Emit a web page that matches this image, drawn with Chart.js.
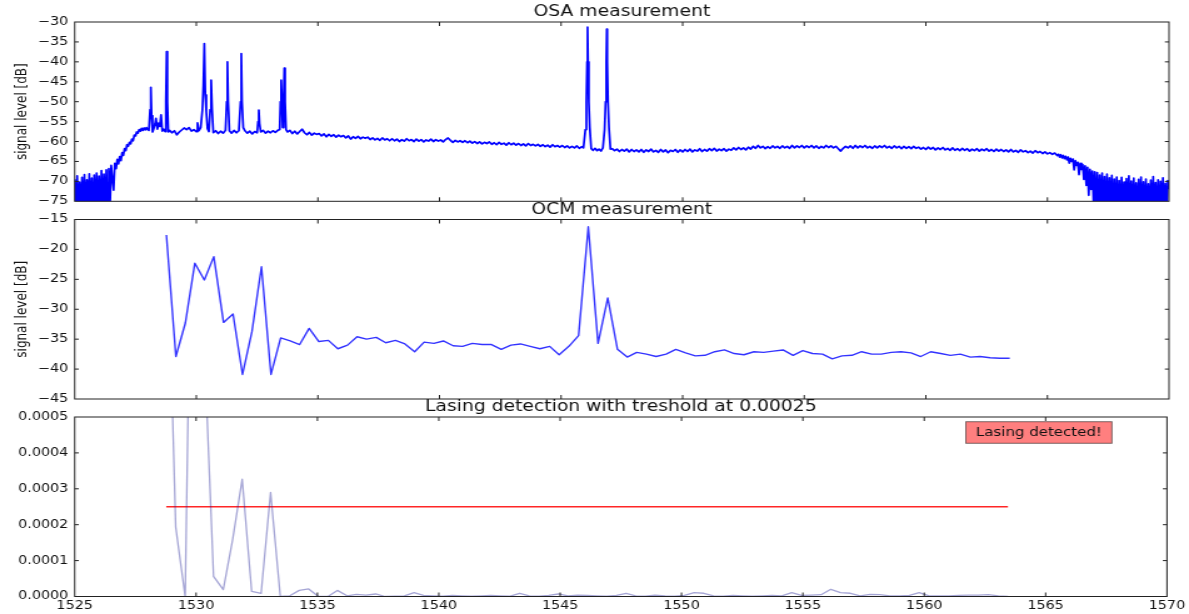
<!DOCTYPE html>
<html><head><meta charset="utf-8">
<script src="https://cdn.jsdelivr.net/npm/chart.js@4.4.1/dist/chart.umd.min.js"></script>
<style>
html,body{margin:0;padding:0;background:#fff;}
#wrap{position:relative;width:1189px;height:614px;overflow:hidden;background:#fff;}
canvas{position:absolute;left:0;top:0;width:1189px !important;height:614px !important;}
</style></head><body><div id="wrap">
<canvas id="c1" width="951" height="614"></canvas>
<canvas id="c2" width="951" height="614"></canvas>
<canvas id="c3" width="951" height="614"></canvas>
</div>
<script>
// ---------------- DATA ----------------
const titles = ['OSA measurement', 'OCM measurement', 'Lasing detection with treshold at 0.00025'];
const yAxisLabel = 'signal level [dB]';
const lasingLabel = 'Lasing detected!';
const xTickValues = [1525, 1530, 1535, 1540, 1545, 1550, 1555, 1560, 1565, 1570];
const threshold = 0.00025;

// OSA trace: wavelength [nm] and level [dB]
const osaNm = [
1525.00,1525.05,1525.10,1525.15,1525.20,1525.25,1525.30,1525.35,1525.40,1525.45,
1525.50,1525.55,1525.60,1525.65,1525.70,1525.75,1525.80,1525.85,1525.90,1525.95,
1526.00,1526.05,1526.10,1526.15,1526.20,1526.25,1526.30,1526.35,1526.40,1526.45,
1526.50,1526.55,1526.60,1526.65,1526.70,1526.75,1526.80,1526.85,1526.90,1526.95,
1527.00,1527.05,1527.10,1527.15,1527.20,1527.25,1527.30,1527.35,1527.40,1527.45,
1527.50,1527.55,1527.60,1527.65,1527.70,1527.75,1527.80,1527.85,1527.90,1527.95,
1528.00,
1528.05,1528.10,1528.13,1528.16,1528.20,1528.25,1528.30,1528.34,1528.40,1528.45,
1528.50,1528.55,1528.60,1528.66,1528.72,1528.75,1528.78,1528.81,1528.85,1528.90,
1529.00,1529.10,1529.20,1529.30,1529.40,1529.50,1529.60,1529.70,1529.80,1529.90,
1530.00,1530.05,1530.10,1530.18,1530.25,1530.29,1530.33,1530.37,1530.41,1530.46,
1530.52,1530.57,1530.61,1530.65,1530.70,1530.80,1530.90,1531.00,1531.10,1531.20,
1531.25,1531.28,1531.31,1531.36,1531.45,1531.55,1531.65,1531.75,1531.82,1531.85,
1531.88,1531.93,1532.00,1532.10,1532.20,1532.30,1532.40,1532.50,1532.54,1532.57,
1532.60,1532.65,1532.75,1532.85,1532.95,1533.05,1533.15,1533.25,1533.35,1533.43,
1533.46,1533.49,1533.52,1533.55,1533.59,1533.62,1533.65,1533.69,1533.75,1533.85,
1533.95,
1534.05,1534.15,1534.25,1534.35,1534.45,1534.55,1534.65,1534.75,1534.85,1534.95,
1535.05,1535.15,1535.25,1535.35,1535.45,1535.55,1535.65,1535.75,1535.85,1535.95,
1536.05,1536.15,1536.25,1536.35,1536.45,1536.55,1536.65,1536.75,1536.85,1536.95,
1537.05,1537.15,1537.25,1537.35,1537.45,1537.55,1537.65,1537.75,1537.85,1537.95,
1538.05,1538.15,1538.25,1538.35,1538.45,1538.55,1538.65,1538.75,1538.85,1538.95,
1539.05,1539.15,1539.25,1539.35,1539.45,1539.55,1539.65,1539.75,1539.85,1539.95,
1540.05,1540.15,1540.25,1540.35,1540.45,1540.55,1540.65,1540.75,1540.85,1540.95,
1541.05,1541.15,1541.25,1541.35,1541.45,1541.55,1541.65,1541.75,1541.85,1541.95,
1542.05,1542.15,1542.25,1542.35,1542.45,1542.55,1542.65,1542.75,1542.85,1542.95,
1543.05,1543.15,1543.25,1543.35,1543.45,1543.55,1543.65,1543.75,1543.85,1543.95,
1544.05,1544.15,1544.25,1544.35,1544.45,1544.55,1544.65,1544.75,1544.85,1544.95,
1545.05,1545.15,1545.25,1545.35,1545.45,1545.55,1545.65,1545.75,1545.85,
1545.92,1546.00,1546.04,1546.07,1546.09,1546.11,1546.14,1546.18,1546.24,1546.32,
1546.40,1546.48,1546.56,1546.64,1546.72,1546.79,1546.83,1546.86,1546.88,1546.90,
1546.93,1546.97,1547.03,
1547.10,1547.20,1547.30,1547.40,1547.50,1547.60,1547.70,1547.80,1547.90,1548.00,
1548.10,1548.20,1548.30,1548.40,1548.50,1548.60,1548.70,1548.80,1548.90,1549.00,
1549.10,1549.20,1549.30,1549.40,1549.50,1549.60,1549.70,1549.80,1549.90,1550.00,
1550.10,1550.20,1550.30,1550.40,1550.50,1550.60,1550.70,1550.80,1550.90,1551.00,
1551.10,1551.20,1551.30,1551.40,1551.50,1551.60,1551.70,1551.80,1551.90,1552.00,
1552.10,1552.20,1552.30,1552.40,1552.50,1552.60,1552.70,1552.80,1552.90,1553.00,
1553.10,1553.20,1553.30,1553.40,1553.50,1553.60,1553.70,1553.80,1553.90,1554.00,
1554.10,1554.20,1554.30,1554.40,1554.50,1554.60,1554.70,1554.80,1554.90,1555.00,
1555.10,1555.20,1555.30,1555.40,1555.50,1555.60,1555.70,1555.80,1555.90,1556.00,
1556.10,1556.20,1556.30,1556.40,1556.50,1556.60,1556.70,1556.80,1556.90,1557.00,
1557.10,1557.20,1557.30,1557.40,1557.50,1557.60,1557.70,1557.80,1557.90,1558.00,
1558.10,1558.20,1558.30,1558.40,1558.50,1558.60,1558.70,1558.80,1558.90,1559.00,
1559.10,1559.20,1559.30,1559.40,1559.50,1559.60,1559.70,1559.80,1559.90,1560.00,
1560.10,1560.20,1560.30,1560.40,1560.50,1560.60,1560.70,1560.80,1560.90,1561.00,
1561.10,1561.20,1561.30,1561.40,1561.50,1561.60,1561.70,1561.80,1561.90,1562.00,
1562.10,1562.20,1562.30,1562.40,1562.50,1562.60,1562.70,1562.80,1562.90,1563.00,
1563.10,1563.20,1563.30,1563.40,1563.50,1563.60,1563.70,1563.80,1563.90,1564.00,
1564.10,1564.20,1564.30,1564.40,1564.50,1564.60,1564.70,1564.80,1564.90,1565.00,
1565.10,1565.20,1565.30,1565.40,
1565.45,1565.50,1565.55,1565.60,1565.65,1565.70,1565.75,1565.80,1565.85,1565.90,
1565.95,1566.00,1566.05,1566.10,1566.15,1566.20,1566.25,1566.30,1566.35,1566.40,
1566.45,1566.50,1566.55,1566.60,1566.65,1566.70,1566.75,1566.80,1566.85,1566.90,
1566.95,
1567.00,1567.05,1567.10,1567.15,1567.20,1567.25,1567.30,1567.35,1567.40,1567.45,
1567.50,1567.55,1567.60,1567.65,1567.70,1567.75,1567.80,1567.85,1567.90,1567.95,
1568.00,1568.05,1568.10,1568.15,1568.20,1568.25,1568.30,1568.35,1568.40,1568.45,
1568.50,1568.55,1568.60,1568.65,1568.70,1568.75,1568.80,1568.85,1568.90,1568.95,
1569.00,1569.05,1569.10,1569.15,1569.20,1569.25,1569.30,1569.35,1569.40,1569.45,
1569.50,1569.55,1569.60,1569.65,1569.70,1569.75,1569.80,1569.85,1569.90,1569.95,
1570.00
];
const osaDb = [
-69.5,-80,-68.6,-80,-70.2,-78,-69.0,-80,-68.3,-80,
-69.6,-77,-68.1,-80,-69.2,-80,-68.4,-79,-67.9,-80,
-68.7,-80,-67.3,-80,-68.2,-79,-67.1,-80,-66.8,-76,
-66.0,-69.5,-72.2,-65.5,-66.8,-64.5,-65.6,-63.8,-64.8,-62.8,
-63.5,-61.8,-62.3,-60.8,-61.2,-60.2,-60.6,-59.4,-59.8,-58.4,
-58.6,-57.6,-57.9,-57.0,-57.4,-56.7,-57.2,-56.6,-57.1,-56.5,
-57.0,
-57.2,-52.0,-46.4,-53.5,-57.6,-56.8,-55.6,-54.2,-56.9,-55.4,
-56.2,-53.3,-57.4,-56.9,-57.5,-50.0,-37.4,-50.0,-57.6,-57.2,
-57.8,-57.3,-58.3,-57.6,-57.1,-56.6,-57.0,-56.5,-57.4,-57.0,
-57.5,-55.3,-57.3,-56.5,-52.1,-46.0,-35.4,-48.3,-52.5,-56.8,
-57.5,-52.0,-44.6,-52.0,-57.8,-57.3,-58.0,-57.4,-57.9,-57.2,
-50.0,-40.0,-50.0,-57.3,-57.9,-57.2,-57.8,-57.3,-50.0,-37.9,
-50.0,-56.5,-57.3,-57.9,-57.4,-58.1,-57.5,-57.8,-55.0,-52.1,
-55.5,-57.6,-57.2,-57.9,-57.4,-57.8,-57.3,-57.7,-57.2,-57.0,
-50.0,-44.6,-50.0,-56.5,-50.0,-41.6,-50.0,-57.0,-57.6,-57.2,
-58.0,
-57.4,-58.1,-57.5,-56.9,-57.8,-58.3,-57.7,-58.4,-57.9,-58.2,
-58.0,-58.6,-58.1,-58.8,-58.2,-58.7,-58.3,-58.9,-58.4,-58.8,
-58.5,-59.1,-58.6,-59.4,-58.8,-59.2,-58.7,-59.3,-58.9,-59.2,
-58.9,-59.5,-59.1,-59.6,-59.2,-59.7,-59.1,-59.6,-59.3,-59.8,
-59.3,-59.8,-59.4,-60.0,-59.5,-59.9,-59.3,-59.8,-59.5,-60.0,
-59.4,-59.9,-59.5,-60.1,-59.6,-59.9,-59.4,-60.0,-59.5,-59.9,
-59.6,-60.1,-59.5,-59.1,-59.7,-60.2,-59.7,-60.1,-59.8,-60.2,
-59.8,-60.3,-59.9,-60.4,-60.0,-60.5,-60.1,-60.6,-60.2,-60.5,
-60.1,-60.7,-60.3,-60.8,-60.2,-60.7,-60.4,-60.9,-60.3,-60.8,
-60.4,-60.9,-60.5,-61.0,-60.6,-61.1,-60.5,-61.0,-60.7,-61.1,
-60.7,-61.2,-60.8,-61.3,-60.9,-61.4,-60.8,-61.3,-61.0,-61.4,
-61.0,-61.5,-61.1,-61.6,-61.2,-61.6,-61.1,-61.7,-61.3,
-61.6,-57.0,-50.0,-40.0,-31.3,-40.0,-50.0,-56.5,-61.8,-62.2,
-61.7,-62.3,-61.9,-62.4,-61.6,-57.0,-50.0,-40.0,-31.8,-40.0,
-50.0,-56.5,-61.9,
-61.8,-62.3,-61.9,-62.5,-62.0,-62.4,-61.9,-62.6,-62.0,-62.5,
-62.1,-62.6,-62.0,-62.7,-62.1,-62.5,-61.9,-62.6,-62.2,-62.7,
-62.0,-62.6,-62.1,-62.8,-62.2,-62.5,-62.0,-62.7,-62.1,-62.6,
-62.0,-62.5,-61.9,-62.6,-62.1,-62.4,-61.8,-62.5,-62.0,-62.4,
-61.8,-62.3,-61.7,-62.4,-61.9,-62.3,-61.8,-62.4,-61.9,-62.2,
-61.6,-62.1,-61.5,-62.0,-61.6,-62.1,-61.4,-61.9,-61.2,-61.7,
-61.0,-61.6,-61.2,-61.8,-61.3,-61.7,-61.1,-61.6,-61.2,-61.7,
-61.1,-61.6,-61.2,-61.7,-61.0,-61.6,-61.1,-61.5,-61.0,-61.6,
-61.1,-61.5,-61.0,-61.6,-61.1,-61.7,-61.2,-61.6,-61.0,-61.5,
-61.1,-61.6,-61.2,-61.8,-62.4,-61.7,-61.2,-61.6,-61.1,-61.7,
-61.0,-61.6,-61.1,-61.5,-61.0,-61.6,-61.2,-61.7,-61.1,-61.6,
-61.1,-61.5,-61.0,-61.6,-61.2,-61.7,-61.1,-61.6,-61.2,-61.8,
-61.2,-61.7,-61.3,-61.8,-61.2,-61.7,-61.4,-61.9,-61.5,-62.0,
-61.4,-61.9,-61.5,-62.1,-61.6,-62.0,-61.5,-62.1,-61.7,-62.2,
-61.6,-62.2,-61.8,-62.3,-61.7,-62.2,-61.8,-62.4,-61.9,-62.3,
-61.8,-62.4,-61.9,-62.3,-61.8,-62.4,-62.0,-62.5,-61.9,-62.4,
-62.0,-62.5,-62.1,-62.6,-62.0,-62.6,-62.2,-62.7,-62.1,-62.6,
-62.3,-62.8,-62.4,-62.9,-62.3,-62.8,-62.5,-63.0,-62.6,-63.1,
-62.8,-63.2,-62.9,-63.5,
-63.2,-63.9,-63.3,-64.1,-63.5,-64.3,-63.7,-64.6,-63.9,-65.4,
-64.2,-65.0,-64.4,-67.1,-64.8,-66.0,-65.2,-68.3,-65.5,-67.0,
-65.8,-69.5,-66.1,-71.0,-66.5,-73.5,-67.0,-72.0,-67.4,-76.0,
-67.6,
-80,-67.8,-80,-68.4,-79,-67.9,-80,-68.8,-80,-68.2,
-80,-69.1,-78,-68.5,-80,-69.4,-80,-68.9,-80,-69.8,
-80,-69.0,-79,-70.2,-80,-69.3,-80,-68.6,-80,-69.9,
-80,-69.2,-78,-70.4,-80,-69.5,-80,-68.9,-80,-70.1,
-80,-69.4,-80,-70.6,-79,-69.7,-80,-68.8,-80,-70.3,
-80,-69.6,-80,-70.0,-78,-69.1,-80,-70.5,-80,-69.8,
-72
];

// OCM channels (50 GHz grid) wavelength [nm]
const ocmNm = [
1528.77,1529.16,1529.55,1529.94,1530.33,1530.72,1531.12,1531.51,1531.90,1532.29,
1532.68,1533.07,1533.47,1533.86,1534.25,1534.64,1535.04,1535.43,1535.82,1536.22,
1536.61,1537.00,1537.40,1537.79,1538.19,1538.58,1538.98,1539.37,1539.77,1540.16,
1540.56,1540.95,1541.35,1541.75,1542.14,1542.54,1542.94,1543.33,1543.73,1544.13,
1544.53,1544.92,1545.32,1545.72,1546.12,1546.52,1546.92,1547.32,1547.72,1548.11,
1548.51,1548.91,1549.32,1549.72,1550.12,1550.52,1550.92,1551.32,1551.72,1552.12,
1552.52,1552.93,1553.33,1553.73,1554.13,1554.54,1554.94,1555.34,1555.75,1556.15,
1556.55,1556.96,1557.36,1557.77,1558.17,1558.58,1558.98,1559.39,1559.79,1560.20,
1560.61,1561.01,1561.42,1561.83,1562.23,1562.64,1563.05,1563.45
];
const ocmDb = [
-17.6,-37.9,-32.3,-22.3,-25.1,-21.2,-32.2,-30.8,-40.9,-33.7,
-22.9,-40.9,-34.8,-35.3,-35.9,-33.2,-35.4,-35.2,-36.6,-36.0,
-34.6,-35.0,-34.7,-35.6,-35.2,-35.8,-37.1,-35.5,-35.7,-35.3,
-36.1,-36.2,-35.7,-35.9,-35.9,-36.7,-36.0,-35.8,-36.2,-36.6,
-36.2,-37.6,-36.2,-34.4,-16.2,-35.7,-28.1,-36.7,-38.0,-37.2,
-37.5,-37.9,-37.5,-36.7,-37.3,-37.8,-37.7,-37.1,-36.8,-37.4,
-37.6,-37.1,-37.2,-37.0,-36.8,-37.7,-36.9,-37.4,-37.5,-38.3,
-37.8,-37.7,-37.1,-37.5,-37.5,-37.2,-37.1,-37.3,-37.9,-37.1,
-37.4,-37.7,-37.5,-38.0,-37.9,-38.1,-38.2,-38.2
];
// Lasing detection metric per OCM channel
const lasingMetric = [
0.00115,0.000194,0,0.00167,0.00071,0.000056,0.000019,0.00016,0.000327,0.000014,
0.000009,0.00029,0,0.000002,0.000017,0.000021,0,0,0.000017,0.000002,
0.000006,0.000004,0.000007,0,0.000001,0.000002,0.000011,0.000003,0.000002,0.000001,
0.000003,0.000002,0.000001,0.000002,0.000003,0.000002,0.000001,0.000009,0.000002,0.000001,
0.000003,0.000007,0.000002,0.000004,0.000003,0.000002,0.000001,0.000003,0.000009,0.000002,
0.000001,0.000004,0.000002,0.000001,0.000003,0.000011,0.000009,0.000002,0.000001,0.000003,
0.000002,0.000001,0.000002,0.000003,0.000002,0.000011,0.000003,0.000004,0.000005,0.000020,
0.000011,0.000009,0.000002,0.000006,0.000005,0.000002,0.000002,0.000003,0.000011,0.000002,
0.000002,0.000002,0.000003,0.000004,0.000004,0.000005,0.000002,0
];

// ---------------- HELPERS ----------------
const FONT = "'DejaVu Sans', 'Liberation Sans', sans-serif";
const TXT = '#111';
function zip(xs, ys){ const n = Math.min(xs.length, ys.length); const out=[]; for(let i=0;i<n;i++) out.push({x:xs[i], y:ys[i]}); return out; }
const minusFmt = v => (v < 0 ? '\u2212' + Math.abs(v) : String(v));

const framePlugin = {
  id: 'frame',
  afterDraw(chart, args, opts) {
    const {ctx, chartArea: a, scales} = chart;
    ctx.save();
    ctx.strokeStyle = '#222';
    ctx.lineWidth = 1;
    ctx.beginPath();
    xTickValues.forEach(v => {
      const px = scales.x.getPixelForValue(v);
      if (px <= a.left + 1 || px >= a.right - 1) return;
      ctx.moveTo(px, a.bottom); ctx.lineTo(px, a.bottom - 4);
      ctx.moveTo(px, a.top); ctx.lineTo(px, a.top + 4);
    });
    scales.y.ticks.forEach(t => {
      const py = scales.y.getPixelForValue(t.value);
      if (py <= a.top + 1 || py >= a.bottom - 1) return;
      ctx.moveTo(a.left, py); ctx.lineTo(a.left + 3.3, py);
      ctx.moveTo(a.right, py); ctx.lineTo(a.right - 3.3, py);
    });
    ctx.stroke();
    ctx.strokeRect(a.left, a.top, a.right - a.left, a.bottom - a.top);
    if (opts && opts.box) {
      ctx.font = '12px ' + FONT;
      const tw = ctx.measureText(opts.box).width;
      const w = tw + 16, h = 21.6;
      const right = a.right - 44, top = a.top + 4.7;
      ctx.fillStyle = 'rgba(255,0,0,0.5)';
      ctx.fillRect(right - w, top, w, h);
      ctx.strokeStyle = 'rgba(0,0,0,0.5)';
      ctx.strokeRect(right - w, top, w, h);
      ctx.fillStyle = TXT;
      ctx.textAlign = 'center';
      ctx.textBaseline = 'middle';
      ctx.fillText(opts.box, right - w / 2, top + h / 2 + 0.5);
    }
    ctx.restore();
  }
};

function xScale(showLabels) {
  return {
    type: 'linear', min: 1525, max: 1570,
    ticks: { display: showLabels, stepSize: 5, padding: 3, autoSkip: false, maxRotation: 0,
             color: TXT, font: { family: FONT, size: 11.5 }, callback: v => String(v) },
    grid: { display: false, drawTicks: false },
    border: { display: false },
    afterFit(s) { s.height = showLabels ? 17.5 : 10; }
  };
}
function yScale(min, max, step, fmt, title) {
  return {
    type: 'linear', min, max,
    ticks: { stepSize: step, padding: 5.1, autoSkip: false, color: TXT,
             font: { family: FONT, size: 11.5 }, callback: fmt },
    grid: { display: false, drawTicks: false },
    border: { display: false },
    title: title ? { display: true, text: title, color: TXT, font: { family: FONT, size: 12 },
                     padding: { top: 10.2, bottom: 0 } } : { display: false },
    afterFit(s) { s.width = 59.75; }
  };
}
function titleOpts(text, padTop, padBottom) {
  return { display: true, text, fullSize: false, color: TXT,
           font: { family: FONT, size: 15, weight: 'normal', lineHeight: 1.2 },
           padding: { top: padTop, bottom: padBottom } };
}
function baseOptions(layoutPad, title, x, y, box) {
  return {
    responsive: false, animation: false, events: [],
    devicePixelRatio: 1,
    layout: { padding: layoutPad },
    plugins: { legend: { display: false }, tooltip: { enabled: false }, title, frame: { box } },
    elements: { point: { radius: 0 }, line: { tension: 0, borderJoinStyle: 'round' } },
    scales: { x, y }
  };
}

// ---------------- CHARTS ----------------
new Chart(document.getElementById('c1'), {
  type: 'line',
  data: { datasets: [{ data: zip(osaNm, osaDb), borderColor: '#0000ff', borderWidth: 1.7 }] },
  options: baseOptions({ top: 0, bottom: 402.7, left: 0, right: 16 },
    titleOpts(titles[0], 2.7, 1.3), xScale(false),
    yScale(-75, -30, 5, minusFmt, yAxisLabel), null),
  plugins: [framePlugin]
});

new Chart(document.getElementById('c2'), {
  type: 'line',
  data: { datasets: [{ data: zip(ocmNm, ocmDb), borderColor: 'rgba(0,0,255,0.8)', borderWidth: 1.4 }] },
  options: baseOptions({ top: 200, bottom: 205, left: 0, right: 16 },
    titleOpts(titles[1], 1, 0.5), xScale(false),
    yScale(-45, -15, 5, minusFmt, yAxisLabel), null),
  plugins: [framePlugin]
});

new Chart(document.getElementById('c3'), {
  type: 'line',
  data: { datasets: [
    { data: zip(ocmNm, lasingMetric), borderColor: 'rgba(30,30,150,0.4)', borderWidth: 1.3 },
    { data: [{ x: ocmNm[0], y: threshold }, { x: ocmNm[ocmNm.length - 1], y: threshold }],
      borderColor: 'rgba(255,0,0,0.85)', borderWidth: 1.3 }
  ] },
  options: baseOptions({ top: 397.5, bottom: 0, left: 0, right: 16 },
    titleOpts(titles[2], 1, 0.5), xScale(true),
    yScale(0, 0.0005, 0.0001, v => Number(v).toFixed(4), null), lasingLabel),
  plugins: [framePlugin]
});
</script>
</body></html>
